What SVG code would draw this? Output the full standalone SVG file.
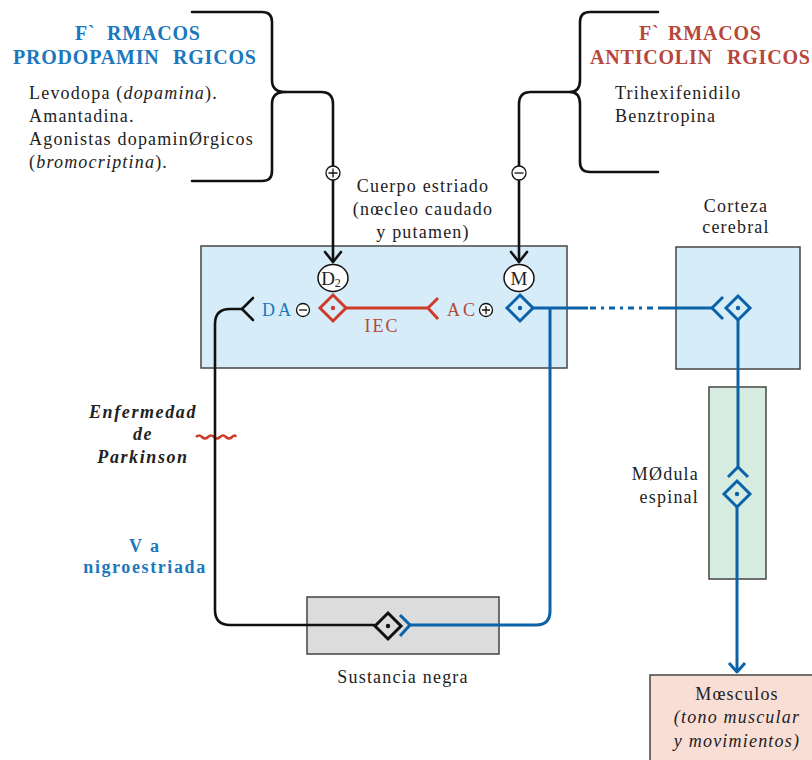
<svg xmlns="http://www.w3.org/2000/svg" width="812" height="760" viewBox="0 0 812 760">
<defs>
<style>
.t{font-family:"Liberation Serif","Times New Roman",serif;font-size:18px;fill:#222;letter-spacing:1.2px}
.title{font-family:"Liberation Serif","Times New Roman",serif;font-size:20px;font-weight:bold;letter-spacing:0.8px}
.bl{fill:#1b78be}
.rd{fill:#b8463a}
.box{stroke:#444;stroke-width:1.5}
.k{fill:none;stroke:#111;stroke-width:2.6;stroke-linecap:round;stroke-linejoin:round}
.b{fill:none;stroke:#0a62a8;stroke-width:3;stroke-linejoin:round}
.r{fill:none;stroke:#cf3b2b;stroke-width:3;stroke-linejoin:round}
.sym{fill:#fff;stroke:#111;stroke-width:1.3}
.bi{font-family:"Liberation Serif","Times New Roman",serif;font-size:18px;font-weight:bold;font-style:italic;letter-spacing:1.6px;fill:#222}
.bb{font-family:"Liberation Serif","Times New Roman",serif;font-size:18px;font-weight:bold;fill:#1b78be}
</style>
</defs>
<rect width="812" height="760" fill="#fff"/>

<g id="estriado">
<rect class="box" x="201" y="246" width="366" height="122" fill="#d6edf9"/>
<text class="t" x="423" y="192" text-anchor="middle">Cuerpo estriado</text>
<text class="t" x="423" y="215" text-anchor="middle">(nœcleo caudado</text>
<text class="t" x="423" y="238" text-anchor="middle">y putamen)</text>
</g>

<g id="corteza">
<rect class="box" x="676" y="247" width="124" height="122" fill="#d6edf9"/>
<text class="t" x="736" y="212" text-anchor="middle">Corteza</text>
<text class="t" x="736" y="233" text-anchor="middle">cerebral</text>
</g>

<g id="medula">
<rect class="box" x="709" y="387" width="57" height="192" fill="#d6ece0"/>
<text class="t" x="699" y="480" text-anchor="end">MØdula</text>
<text class="t" x="699" y="503" text-anchor="end">espinal</text>
</g>

<g id="musculos">
<rect class="box" x="650" y="675" width="170" height="100" fill="#f9ded6"/>
<text class="t" x="737" y="700" text-anchor="middle">Mœsculos</text>
<text class="t" x="737" y="723" text-anchor="middle" font-style="italic">(tono muscular</text>
<text class="t" x="737" y="747" text-anchor="middle" font-style="italic">y movimientos)</text>
</g>

<g id="sustancia-negra">
<rect class="box" x="307" y="597" width="192" height="57" fill="#dcdcdc"/>
<text class="t" x="403" y="683" text-anchor="middle">Sustancia negra</text>
</g>

<g id="prodopaminergicos">
<text class="title bl" x="75" y="40">F`<tspan x="107">RMACOS</tspan></text>
<text class="title bl" x="13" y="64">PRODOPAMIN<tspan x="173">RGICOS</tspan></text>
<text class="t" x="29" y="99">Levodopa (<tspan font-style="italic">dopamina</tspan>).</text>
<text class="t" x="29" y="122">Amantadina.</text>
<text class="t" x="29" y="145">Agonistas dopaminØrgicos</text>
<text class="t" x="29" y="168">(<tspan font-style="italic">bromocriptina</tspan>).</text>
<path class="k" d="M192,12 H262 Q272,12 272,22 V80 Q272,92 285,92 Q272,92 272,104 V171 Q272,181 262,181 H192"/>
</g>

<g id="anticolinergicos">
<text class="title rd" x="639" y="40">F`<tspan x="668">RMACOS</tspan></text>
<text class="title rd" x="590" y="64">ANTICOLIN<tspan x="727">RGICOS</tspan></text>
<text class="t" x="615" y="99">Trihexifenidilo</text>
<text class="t" x="615" y="122">Benztropina</text>
<path class="k" d="M658,12 H590 Q580,12 580,22 V80 Q580,92 570,92 Q580,92 580,104 V162 Q580,172 590,172 H658"/>
</g>

<g id="parkinson">
<text class="bi" x="143" y="418" text-anchor="middle">Enfermedad</text>
<text class="bi" x="143" y="440" text-anchor="middle">de</text>
<text class="bi" x="143" y="463" text-anchor="middle">Parkinson</text>
<path d="M196,437 q3,-3 6,0 t6,0 t6,0 t6,0 t6,0 t6,0 t4,0" fill="none" stroke="#cf3b2b" stroke-width="2.5"/>
</g>

<g id="via">
<text class="bb" x="145" y="552" text-anchor="middle" letter-spacing="2">V a</text>
<text class="bb" x="145" y="573" text-anchor="middle" letter-spacing="1.6">nigroestriada</text>
</g>

<g id="connectors">
<path class="k" d="M285,92 H321 Q333,92 333,104 V262"/>
<path class="k" d="M325,252 L333,262 L341,252"/>
<path class="k" d="M570,92 H531 Q519,92 519,104 V262"/>
<path class="k" d="M511,252 L519,262 L527,252"/>
<circle class="sym" cx="333" cy="173" r="7"/>
<path d="M328.5,173 H337.5 M333,168.5 V177.5" stroke="#111" stroke-width="1.3"/>
<circle class="sym" cx="519" cy="173" r="7"/>
<path d="M514.5,173 H523.5" stroke="#111" stroke-width="1.3"/>

<ellipse cx="333" cy="278" rx="15" ry="13.5" fill="#fff" stroke="#111" stroke-width="1.5"/>
<text x="331" y="285" text-anchor="middle" font-family="Liberation Serif,serif" font-size="19" fill="#222">D<tspan font-size="12" dy="2">2</tspan></text>
<ellipse cx="519" cy="278" rx="15" ry="13.5" fill="#fff" stroke="#111" stroke-width="1.5"/>
<text x="519" y="285" text-anchor="middle" font-family="Liberation Serif,serif" font-size="19" fill="#222">M</text>

<text x="262" y="316" font-family="Liberation Serif,serif" font-size="18" letter-spacing="3" fill="#1b78be">DA</text>
<circle class="sym" cx="303" cy="310" r="6.5"/>
<path d="M299,310 H307" stroke="#111" stroke-width="1.3"/>
<text x="447" y="316" font-family="Liberation Serif,serif" font-size="18" letter-spacing="3" fill="#b8463a">AC</text>
<circle class="sym" cx="486" cy="310" r="6.5"/>
<path d="M482,310 H490 M486,306 V314" stroke="#111" stroke-width="1.3"/>
<text x="382" y="332" text-anchor="middle" font-family="Liberation Serif,serif" font-size="18" letter-spacing="2" fill="#b8463a">IEC</text>

<path class="k" d="M242,309 H230 Q215,309 215,324 V610 Q215,625 230,625 H374"/>
<path class="k" d="M253,298 L242,309 L253,320"/>
<polygon points="388,613 401,626 388,639 375,626" fill="none" stroke="#111" stroke-width="3"/>
<circle cx="388" cy="626" r="2.2" fill="#111"/>

<polygon points="333,295 346,308 333,321 320,308" fill="none" stroke="#cf3b2b" stroke-width="3"/>
<circle cx="333" cy="308" r="2.2" fill="#cf3b2b"/>
<path class="r" d="M346,308 H428"/>
<path class="r" d="M438,298 L428,308 L438,319"/>

<polygon points="520,295 533,308 520,321 507,308" fill="none" stroke="#0a62a8" stroke-width="3"/>
<circle cx="520" cy="308" r="2.2" fill="#0a62a8"/>
<path class="b" d="M533,308 H588"/>
<path class="b" d="M590,308 H658" stroke-dasharray="6 5 3 5"/>
<path class="b" d="M658,308 H712"/>
<path class="b" d="M550,308 V611 Q550,625 536,625 H410"/>
<path class="b" d="M400,615 L410,625 L400,636"/>

<path class="b" d="M723,297 L712,308 L723,319"/>
<polygon points="738,296 750,308 738,320 726,308" fill="none" stroke="#0a62a8" stroke-width="3"/>
<circle cx="738" cy="308" r="2.2" fill="#0a62a8"/>
<path class="b" d="M738,320 V467"/>
<path class="b" d="M728,477 L738,467 L748,477"/>
<polygon points="737,481 750,494 737,507 724,494" fill="none" stroke="#0a62a8" stroke-width="3"/>
<circle cx="737" cy="494" r="2.2" fill="#0a62a8"/>
<path class="b" d="M737,507 V672"/>
<path class="b" d="M729,663 L737,672 L745,663"/>
</g>
</svg>
